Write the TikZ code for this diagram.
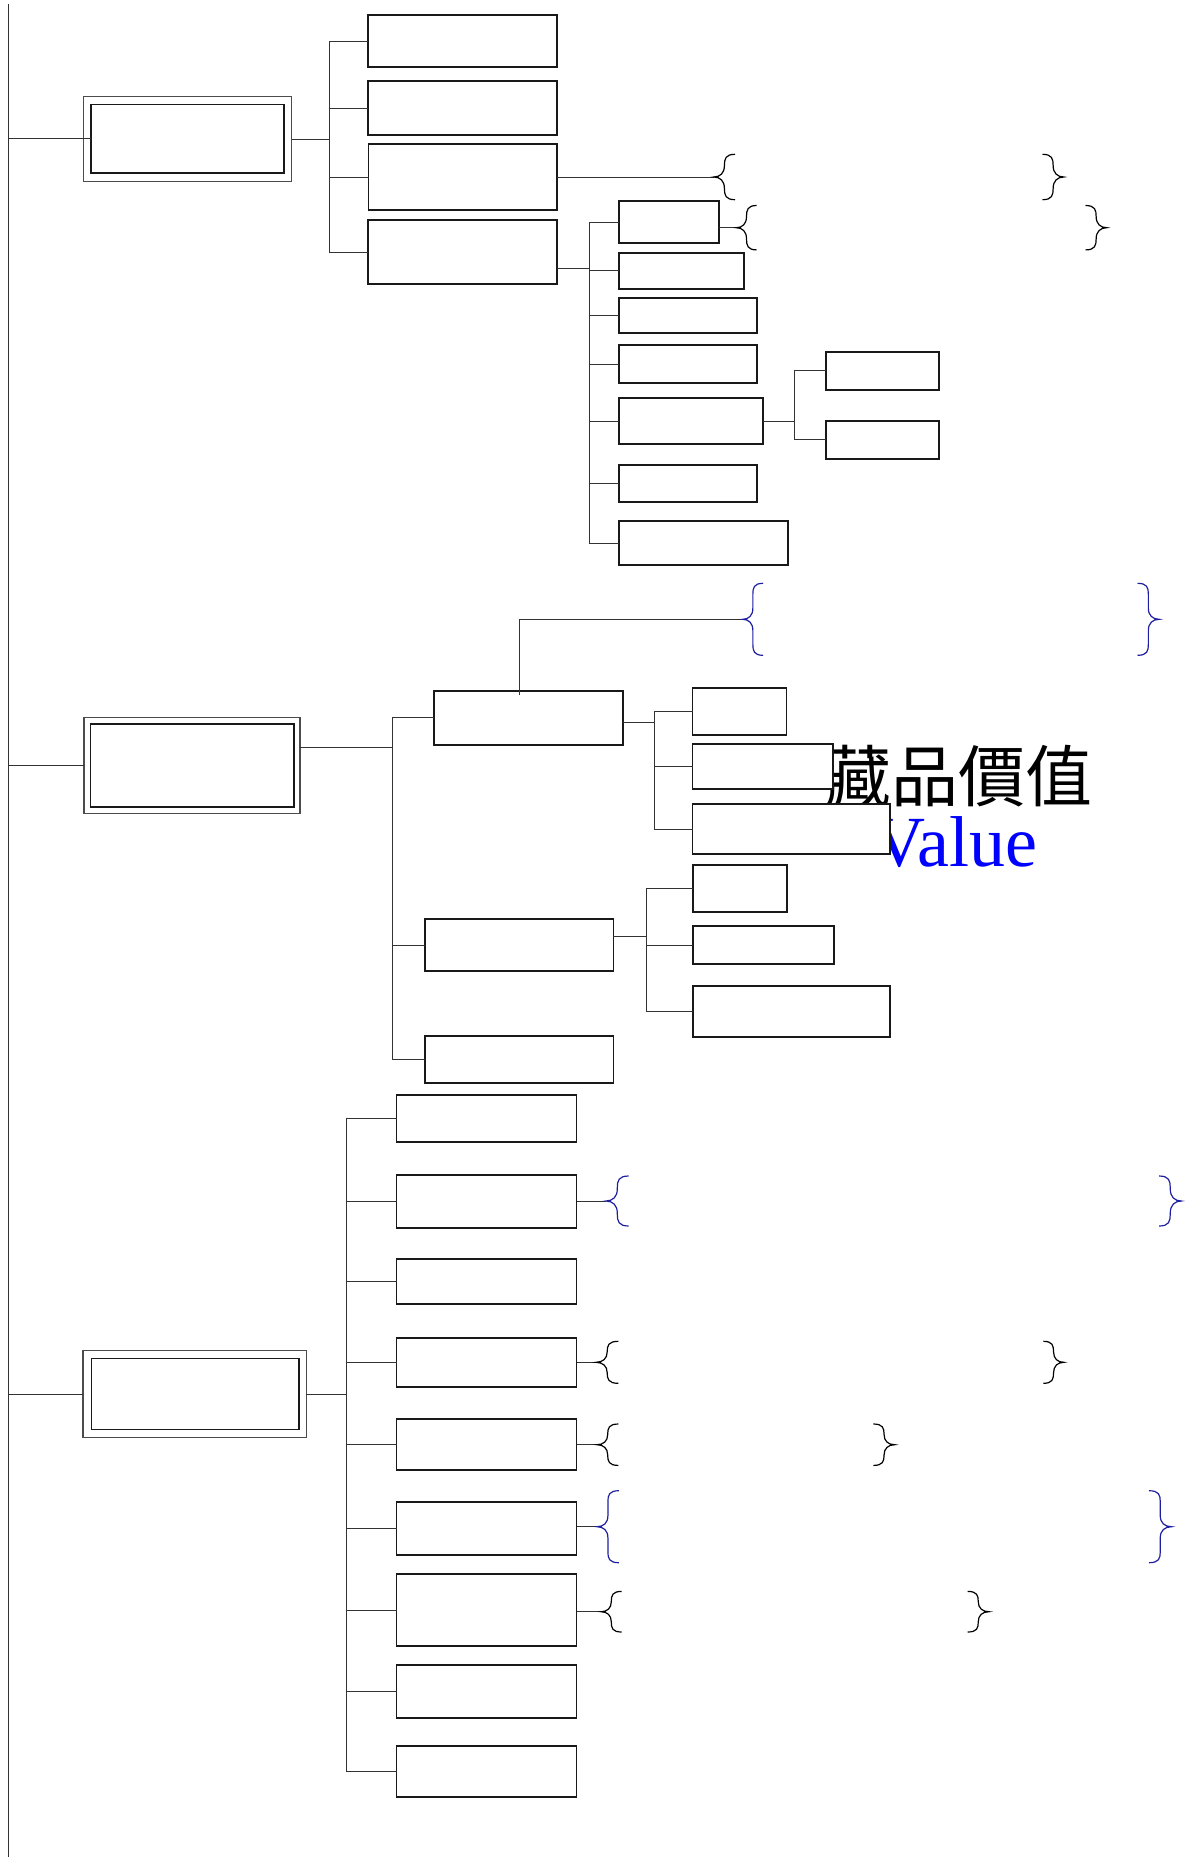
\documentclass[tikz,border=0pt]{standalone}
\usepackage{fontspec}
\newfontfamily\cjkfont{Noto Sans CJK TC}
\newfontfamily\timesfont{Liberation Serif}
\usetikzlibrary{fit,calc}
\definecolor{braceblue}{RGB}{30,30,160}
\definecolor{valblue}{RGB}{0,0,255}
\tikzset{
  box/.style={draw=black!90, line width=0.85pt, fill=white, inner sep=0pt, outer sep=0pt},
  outerbox/.style={draw=black!70, line width=0.6pt, fill=white, inner sep=0pt, outer sep=0pt},
  innerbox/.style={draw=black!90, line width=0.75pt, inner sep=0pt, outer sep=0pt},
  conn/.style={draw=black!80, line width=0.5pt},
  brk/.style={line width=0.6pt, draw=black},
  brb/.style={line width=0.6pt, draw=braceblue},
}
% left brace: style, tip x, tip y, width, half height, corner
\newcommand{\LBrc}[6]{%
  \draw[#1] ({#2+#4},{#3-#5}) .. controls ({#2+#4*0.55},{#3-#5}) and ({#2+#4/2},{#3-#5+#6*0.4}) .. ({#2+#4/2},{#3-#5+#6})
    -- ({#2+#4/2},{#3-#6}) .. controls ({#2+#4/2},{#3-#6*0.35}) and ({#2+#4*0.3},{#3}) .. ({#2},{#3})
    .. controls ({#2+#4*0.3},{#3}) and ({#2+#4/2},{#3+#6*0.35}) .. ({#2+#4/2},{#3+#6})
    -- ({#2+#4/2},{#3+#5-#6}) .. controls ({#2+#4/2},{#3+#5-#6*0.4}) and ({#2+#4*0.55},{#3+#5}) .. ({#2+#4},{#3+#5});}
\newcommand{\RBrc}[6]{%
  \draw[#1] ({#2-#4},{#3-#5}) .. controls ({#2-#4*0.55},{#3-#5}) and ({#2-#4/2},{#3-#5+#6*0.4}) .. ({#2-#4/2},{#3-#5+#6})
    -- ({#2-#4/2},{#3-#6}) .. controls ({#2-#4/2},{#3-#6*0.35}) and ({#2-#4*0.3},{#3}) .. ({#2},{#3})
    .. controls ({#2-#4*0.3},{#3}) and ({#2-#4/2},{#3+#6*0.35}) .. ({#2-#4/2},{#3+#6})
    -- ({#2-#4/2},{#3+#5-#6}) .. controls ({#2-#4/2},{#3+#5-#6*0.4}) and ({#2-#4*0.55},{#3+#5}) .. ({#2-#4},{#3+#5});}
\begin{document}
\begin{tikzpicture}[x=0.5pt,y=-0.5pt]
\useasboundingbox (0,0) rectangle (1192,1858);

% ---- texts (partly covered by the boxes) ----
\node[anchor=base, inner sep=0pt, font={\cjkfont\fontsize{33.5}{40}\selectfont}] (cjk) at (958,801) {藏品價值};
\node[anchor=base, inner sep=0pt, text=valblue, font={\timesfont\fontsize{36}{42}\selectfont}] (val) at (955,866) {Value};

% ---- trunk ----
\coordinate (trkT) at (8,4);
\coordinate (trkB) at (8,1857);
\draw[conn] (trkT) -- (trkB);

% ================= section 1 =================
\node[outerbox, fit={(83.4,96.7) (291.6,181.3)}] (a1o) {};
\node[innerbox, fit={(91,104.3) (284,173)}] (a1) {};
\draw[conn] (a1.west -| trkT) -- (a1.west);

\node[box, fit={(367.8,15.3) (556.8,66.7)}] (b1) {};
\node[box, fit={(367.8,81.3) (556.8,134.7)}] (b2) {};
\node[box, fit={(368.5,144.3) (556.8,209.7)}] (b3) {};
\node[box, fit={(367.8,219.7) (556.8,284.3)}] (b4) {};
\coordinate (bus1) at (329,0);
\draw[conn] (a1o.east) -- (a1o.east -| bus1);
\draw[conn] (b1.west -| bus1) -- (b4.west -| bus1);
\foreach \n in {b1,b2,b3,b4} \draw[conn] (\n.west -| bus1) -- (\n.west);

\node[box, fit={(619.3,201) (719.3,243)}] (c1) {};
\node[box, fit={(619.3,252.7) (744.3,289)}] (c2) {};
\node[box, fit={(619.3,298.3) (757,332.7)}] (c3) {};
\node[box, fit={(619.3,345.3) (757,383)}] (c4) {};
\node[box, fit={(619.3,398.3) (763.3,443.7)}] (c5) {};
\node[box, fit={(619.3,465) (757,502.3)}] (c6) {};
\node[box, fit={(619.3,521.3) (788.3,565.3)}] (c7) {};
\coordinate (bus2) at (589.3,0);
\coordinate (b4p) at ($(b4.south east)!0.25!(b4.north east)$);
\draw[conn] (b4p) -- (b4p -| bus2);
\draw[conn] (c1.west -| bus2) -- (c7.west -| bus2);
\foreach \n in {c1,c2,c3,c4,c5,c6,c7} \draw[conn] (\n.west -| bus2) -- (\n.west);

\node[box, fit={(825.7,352) (939.3,389.7)}] (d1) {};
\node[box, fit={(825.7,420.7) (939.3,458.7)}] (d2) {};
\coordinate (bus3) at (794.3,0);
\draw[conn] (c5.east) -- (c5.east -| bus3);
\draw[conn] (d1.west -| bus3) -- (d2.west -| bus3);
\foreach \n in {d1,d2} \draw[conn] (\n.west -| bus3) -- (\n.west);

% braces of section 1
\coordinate (t1) at (713.8,177);
\draw[conn] (t1 -| b3.east) -- (t1);
\LBrc{brk}{713.8}{177}{21.2}{22.7}{11.3}
\RBrc{brk}{1063.8}{177}{21.3}{22.7}{11.3}
\coordinate (t2) at (736.3,227.7);
\draw[conn] (t2 -| c1.east) -- (t2);
\LBrc{brk}{736.3}{227.7}{20.4}{22.2}{11.1}
\RBrc{brk}{1106.8}{227.7}{21.3}{22.2}{11.1}

% ================= section 2 =================
\node[outerbox, fit={(83.9,717.7) (300,813.3)}] (a2o) {};
\node[innerbox, fit={(90.6,724) (294.2,807)}] (a2) {};
\draw[conn] (a2o.west -| trkT) -- (a2o.west);

\node[box, fit={(433.9,691) (622.7,744.7)}] (e1) {};
\node[box, fit={(425,918.7) (613.4,971.3)}] (e2) {};
\node[box, fit={(425,1036.3) (613.4,1083.3)}] (e3) {};
\coordinate (bus4) at (392,0);
\coordinate (a2p) at ($(a2o.north east)!0.31!(a2o.south east)$);
\draw[conn] (a2p) -- (a2p -| bus4);
\draw[conn] (e1.west -| bus4) -- (e3.west -| bus4);
\foreach \n in {e1,e2,e3} \draw[conn] (\n.west -| bus4) -- (\n.west);

\node[box, fit={(692.5,687.7) (786.6,735)}] (f1) {};
\node[box, fit={(692.5,744.3) (833.3,788.7)}] (f2) {};
\node[box, fit={(692.5,804) (889.8,854.3)}] (f3) {};
\coordinate (bus5) at (654.4,0);
\coordinate (e1p) at ($(e1.north east)!0.59!(e1.south east)$);
\draw[conn] (e1p) -- (e1p -| bus5);
\draw[conn] (f1.west -| bus5) -- (f3.west -| bus5);
\foreach \n in {f1,f2,f3} \draw[conn] (\n.west -| bus5) -- (\n.west);

\node[box, fit={(692.7,865) (787,911.7)}] (g1) {};
\node[box, fit={(692.7,926) (833.7,964)}] (g2) {};
\node[box, fit={(692.7,986) (890,1036.7)}] (g3) {};
\coordinate (bus6) at (646,0);
\coordinate (e2p) at ($(e2.north east)!0.34!(e2.south east)$);
\draw[conn] (e2p) -- (e2p -| bus6);
\draw[conn] (g1.west -| bus6) -- (g3.west -| bus6);
\foreach \n in {g1,g2,g3} \draw[conn] (\n.west -| bus6) -- (\n.west);

% brace above E1
\coordinate (e1up) at (519.3,695);
\coordinate (t3) at (742.6,619.3);
\draw[conn] (e1up) |- (t3);
\LBrc{brb}{742.6}{619.3}{20.5}{36}{11}
\RBrc{brb}{1159.2}{619.3}{21.7}{36}{11}

% ================= section 3 =================
\node[outerbox, fit={(83,1350.7) (306.4,1437.3)}] (a3o) {};
\node[innerbox, fit={(91.3,1358.3) (299,1429.3)}] (a3) {};
\draw[conn] (a3o.west -| trkT) -- (a3o.west);

\node[box, fit={(396.6,1094.7) (576.5,1141.7)}] (h1) {};
\node[box, fit={(396.6,1174.7) (576.5,1227.7)}] (h2) {};
\node[box, fit={(396.6,1258.7) (576.5,1304.3)}] (h3) {};
\node[box, fit={(396.6,1337.7) (576.5,1386.7)}] (h4) {};
\node[box, fit={(396.6,1419.3) (576.5,1470)}] (h5) {};
\node[box, fit={(396.6,1501.7) (576.5,1554.7)}] (h6) {};
\node[box, fit={(396.6,1574) (576.5,1646)}] (h7) {};
\node[box, fit={(396.6,1664.7) (576.5,1718)}] (h8) {};
\node[box, fit={(396.6,1746.3) (576.5,1796.7)}] (h9) {};
\coordinate (bus7) at (346,0);
\draw[conn] (a3o.east) -- (a3o.east -| bus7);
\draw[conn] (h1.west -| bus7) -- (h9.west -| bus7);
\foreach \n in {h1,h2,h3,h4,h5,h6,h7,h8,h9} \draw[conn] (\n.west -| bus7) -- (\n.west);

% braces of section 3
\coordinate (t4) at (606,1201);
\draw[conn] (t4 -| h2.east) -- (t4);
\LBrc{brb}{606}{1201}{22.6}{25}{12}
\RBrc{brb}{1181.3}{1201}{22.1}{25}{12}

\coordinate (t5) at (596,1362.3);
\draw[conn] (t5 -| h4.east) -- (t5);
\LBrc{brk}{596}{1362.3}{22.4}{21}{10.5}
\RBrc{brk}{1063.8}{1362.3}{20.5}{21}{10.5}

\coordinate (t6) at (597,1444.7);
\draw[conn] (t6 -| h5.east) -- (t6);
\LBrc{brk}{597}{1444.7}{21.4}{20.7}{10.3}
\RBrc{brk}{894.7}{1444.7}{21.3}{20.7}{10.3}

\coordinate (t7) at (597,1526.7);
\draw[conn] (t7 -| h6.east) -- (t7);
\LBrc{brb}{597}{1526.7}{21.8}{36}{11}
\RBrc{brb}{1171.5}{1526.7}{22.5}{36}{11}

\coordinate (t8) at (601,1611.7);
\draw[conn] (t8 -| h7.east) -- (t8);
\LBrc{brk}{601}{1611.7}{20.6}{20.3}{10.1}
\RBrc{brk}{988.9}{1611.7}{21.3}{20.3}{10.1}
\end{tikzpicture}
\end{document}
